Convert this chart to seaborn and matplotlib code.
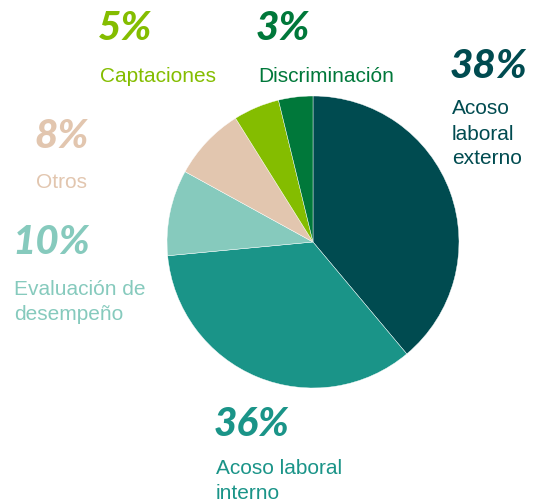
import matplotlib
matplotlib.use("Agg")
import matplotlib.pyplot as plt
import seaborn as sns

# datos del gráfico
categorias = ["Acoso\nlaboral\nexterno", "Acoso laboral\ninterno", "Evaluación de\ndesempeño",
              "Otros", "Captaciones", "Discriminación"]
porcentajes = [38, 36, 10, 8, 5, 3]           # lo que dicen las etiquetas
sectores = [38.9, 34.6, 9.5, 8.1, 5.1, 3.8]   # tamaño dibujado de cada sector
colores = ["#004B50", "#1A9488", "#86CABD", "#E2C6AF", "#84BD00", "#00783A"]

sns.set_theme(style="white")
plt.rcParams["font.family"] = ["Liberation Sans", "DejaVu Sans"]

W, H = 534, 504
fig = plt.figure(figsize=(W / 100, H / 100), dpi=100)
ax = fig.add_axes([0, 0, 1, 1])

ax.pie(sectores, colors=colores, startangle=90, counterclock=False,
       center=(313, H - 242), radius=146, frame=True,
       wedgeprops=dict(edgecolor="white", linewidth=0.3))
ax.set_xlim(0, W)
ax.set_ylim(0, H)
ax.set_aspect("equal")
ax.axis("off")

# posiciones de las etiquetas (x, centro del %, centro del texto) en píxeles
pos = [(452, 66, 134), (216, 424, 481), (14, 243, 302),
       (36, 137, 182), (100, 29, 76), (258, 29, 76)]

for (x, yp, yt), cat, v, c in zip(pos, categorias, porcentajes, colores):
    ax.text(x - 2, H - yp, f"{v}%", color=c, fontsize=29, fontweight="black",
            fontstyle="italic", family=["Lato", "DejaVu Sans"], va="center", ha="left")
    ax.text(x, H - yt, cat, color=c, fontsize=15, va="center", ha="left",
            linespacing=1.4)

fig.savefig("out.png", dpi=100, facecolor="white")
